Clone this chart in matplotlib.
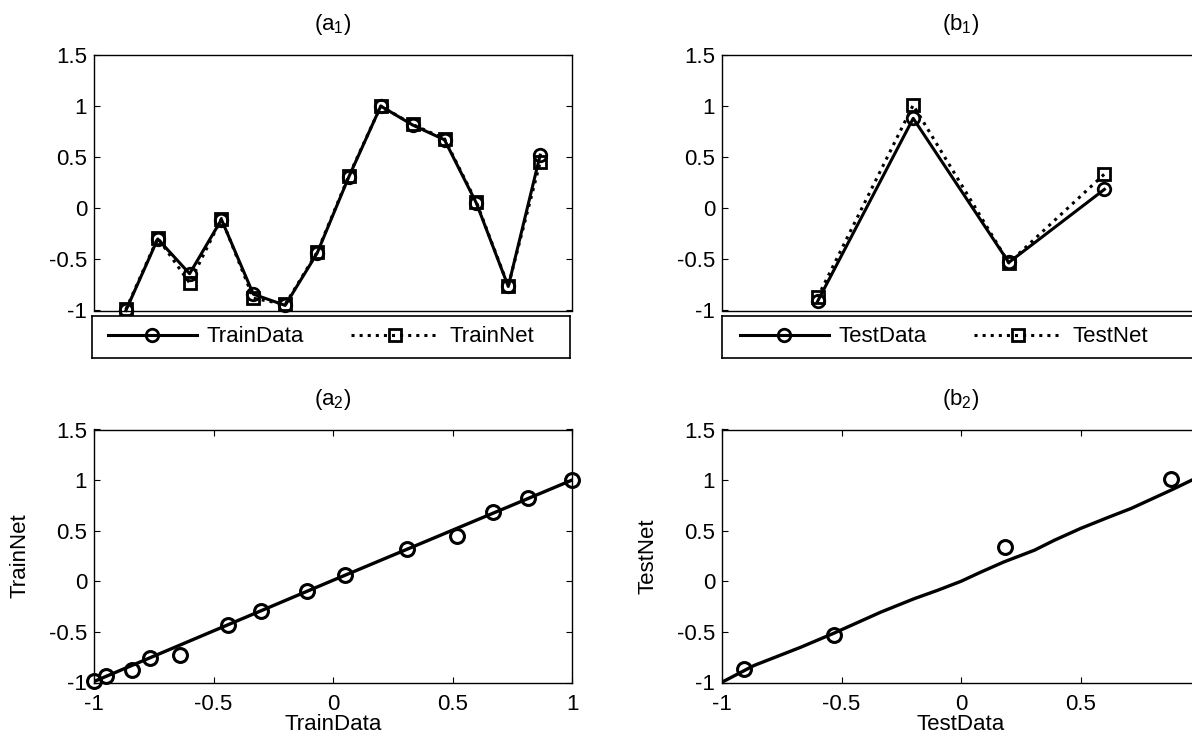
import matplotlib
matplotlib.use('Agg')
import matplotlib.pyplot as plt

# Font setup (Arial-like, MATLAB style)
plt.rcParams['font.family'] = ['Liberation Sans', 'DejaVu Sans']
plt.rcParams['mathtext.fontset'] = 'custom'
plt.rcParams['mathtext.rm'] = 'Liberation Sans'
plt.rcParams['mathtext.it'] = 'Liberation Sans'
plt.rcParams['mathtext.bf'] = 'Liberation Sans'
plt.rcParams['axes.unicode_minus'] = False
plt.rcParams['font.size'] = 16

# Training samples (index 1..14)
train_idx = [1, 2, 3, 4, 5, 6, 7, 8, 9, 10, 11, 12, 13, 14]
train_data = [-1.0, -0.30, -0.64, -0.11, -0.84, -0.95, -0.44, 0.31, 1.0, 0.815, 0.67, 0.05, -0.765, 0.52]
train_net = [-0.99, -0.29, -0.73, -0.10, -0.88, -0.94, -0.43, 0.32, 1.0, 0.82, 0.68, 0.06, -0.76, 0.45]

# Test samples (index 1..4)
test_idx = [1, 2, 3, 4]
test_data = [-0.91, 0.88, -0.53, 0.185]
test_net = [-0.87, 1.01, -0.535, 0.335]

# Network response curves
train_curve_x = [-1.0, 0.0, 1.0]
train_curve_y = [-0.99, 0.01, 1.0]
test_curve_x = [-1.0, -0.866, -0.67, -0.537, -0.335, -0.196, -0.098, 0.0, 0.084, 0.179,
                0.307, 0.391, 0.5, 0.615, 0.712, 0.879, 0.972, 1.0]
test_curve_y = [-0.997, -0.832, -0.651, -0.518, -0.304, -0.172, -0.089, 0.0, 0.092, 0.191,
                0.307, 0.406, 0.522, 0.631, 0.72, 0.901, 1.007, 1.04]

y_ticks = [-1, -0.5, 0, 0.5, 1, 1.5]
y_ticklabels = ['-1', '-0.5', '0', '0.5', '1', '1.5']
x_ticks = [-1, -0.5, 0, 0.5, 1]
x_ticklabels = ['-1', '-0.5', '0', '0.5', '1']

W, H = 1192, 746


def px_rect(left, top, width, height):
    return [left / W, 1 - (top + height) / H, width / W, height / H]


def style_axes(ax):
    ax.tick_params(direction='in', top=True, right=True, length=4, width=0.8)
    ax.tick_params(axis='y', pad=5)
    ax.tick_params(axis='x', pad=8)
    for sp in ax.spines.values():
        sp.set_linewidth(1.0)
    ax.set_ylim(-1, 1.5)
    ax.set_yticks(y_ticks)
    ax.set_yticklabels(y_ticklabels)


def line_panel(rect, leg_rect, idx, data, net, xmax, data_name, net_name, title, lpad):
    ax = fig.add_axes(px_rect(*rect))
    l1, = ax.plot(idx, data, '-', color='black', lw=2.2, marker='o', ms=9, mew=2,
                  mfc='none', clip_on=False)
    l2, = ax.plot(idx, net, ':', color='black', lw=2.2, marker='s', ms=9, mew=2,
                  mfc='none', clip_on=False)
    ax.set_xlim(0, xmax)
    ax.set_xticks([])
    style_axes(ax)
    ax.set_title(title, pad=18, fontsize=16)

    # legend in its own boxed axes below the plot
    lax = fig.add_axes(px_rect(*leg_rect))
    lax.set_xticks([])
    lax.set_yticks([])
    for sp in lax.spines.values():
        sp.set_linewidth(1.2)
    lax.legend(handles=[l1, l2], labels=[data_name, net_name], loc='center left',
               bbox_to_anchor=(lpad / leg_rect[2], 0.5), ncol=2, frameon=False,
               handlelength=4.0, handletextpad=0.45, columnspacing=2.1,
               borderpad=0, borderaxespad=0, numpoints=1)
    return ax


def scatter_panel(rect, data, net, cx, cy, xlabel, ylabel, title):
    ax = fig.add_axes(px_rect(*rect))
    ax.plot(data, net, 'o', color='black', ms=10, mew=2.2, mfc='none', clip_on=False)
    ax.plot(cx, cy, '-', color='black', lw=2.4)
    ax.set_xlim(-1, 1)
    ax.set_xticks(x_ticks)
    ax.set_xticklabels(x_ticklabels)
    style_axes(ax)
    ax.set_xlabel(xlabel, va='center')
    ax.xaxis.set_label_coords(0.5, -0.165)
    ax.set_ylabel(ylabel, va='center')
    ax.yaxis.set_label_coords(-0.154, 0.5)
    ax.set_title(title, pad=18, fontsize=16)
    return ax


fig = plt.figure(figsize=(W / 100, H / 100), dpi=100)
fig.patch.set_facecolor('white')

line_panel((94, 55, 478, 255.5), (92, 316, 478, 42), train_idx, train_data, train_net, 15,
           'TrainData', 'TrainNet', r'(a$_1$)', 16)
line_panel((722, 55, 478, 255.5), (722, 316, 478, 42), test_idx, test_data, test_net, 5,
           'TestData', 'TestNet', r'(b$_1$)', 18)

scatter_panel((94, 429.5, 478, 253), train_data, train_net, train_curve_x, train_curve_y,
              'TrainData', 'TrainNet', r'(a$_2$)')
ax_b2 = scatter_panel((722, 429.5, 478, 253), test_data, test_net, test_curve_x, test_curve_y,
                      'TestData', 'TestNet', r'(b$_2$)')
# right column is cropped at the figure edge in the original, so its "1" label is not shown
ax_b2.get_xticklabels()[-1].set_visible(False)

fig.savefig('out.png', dpi=100)
